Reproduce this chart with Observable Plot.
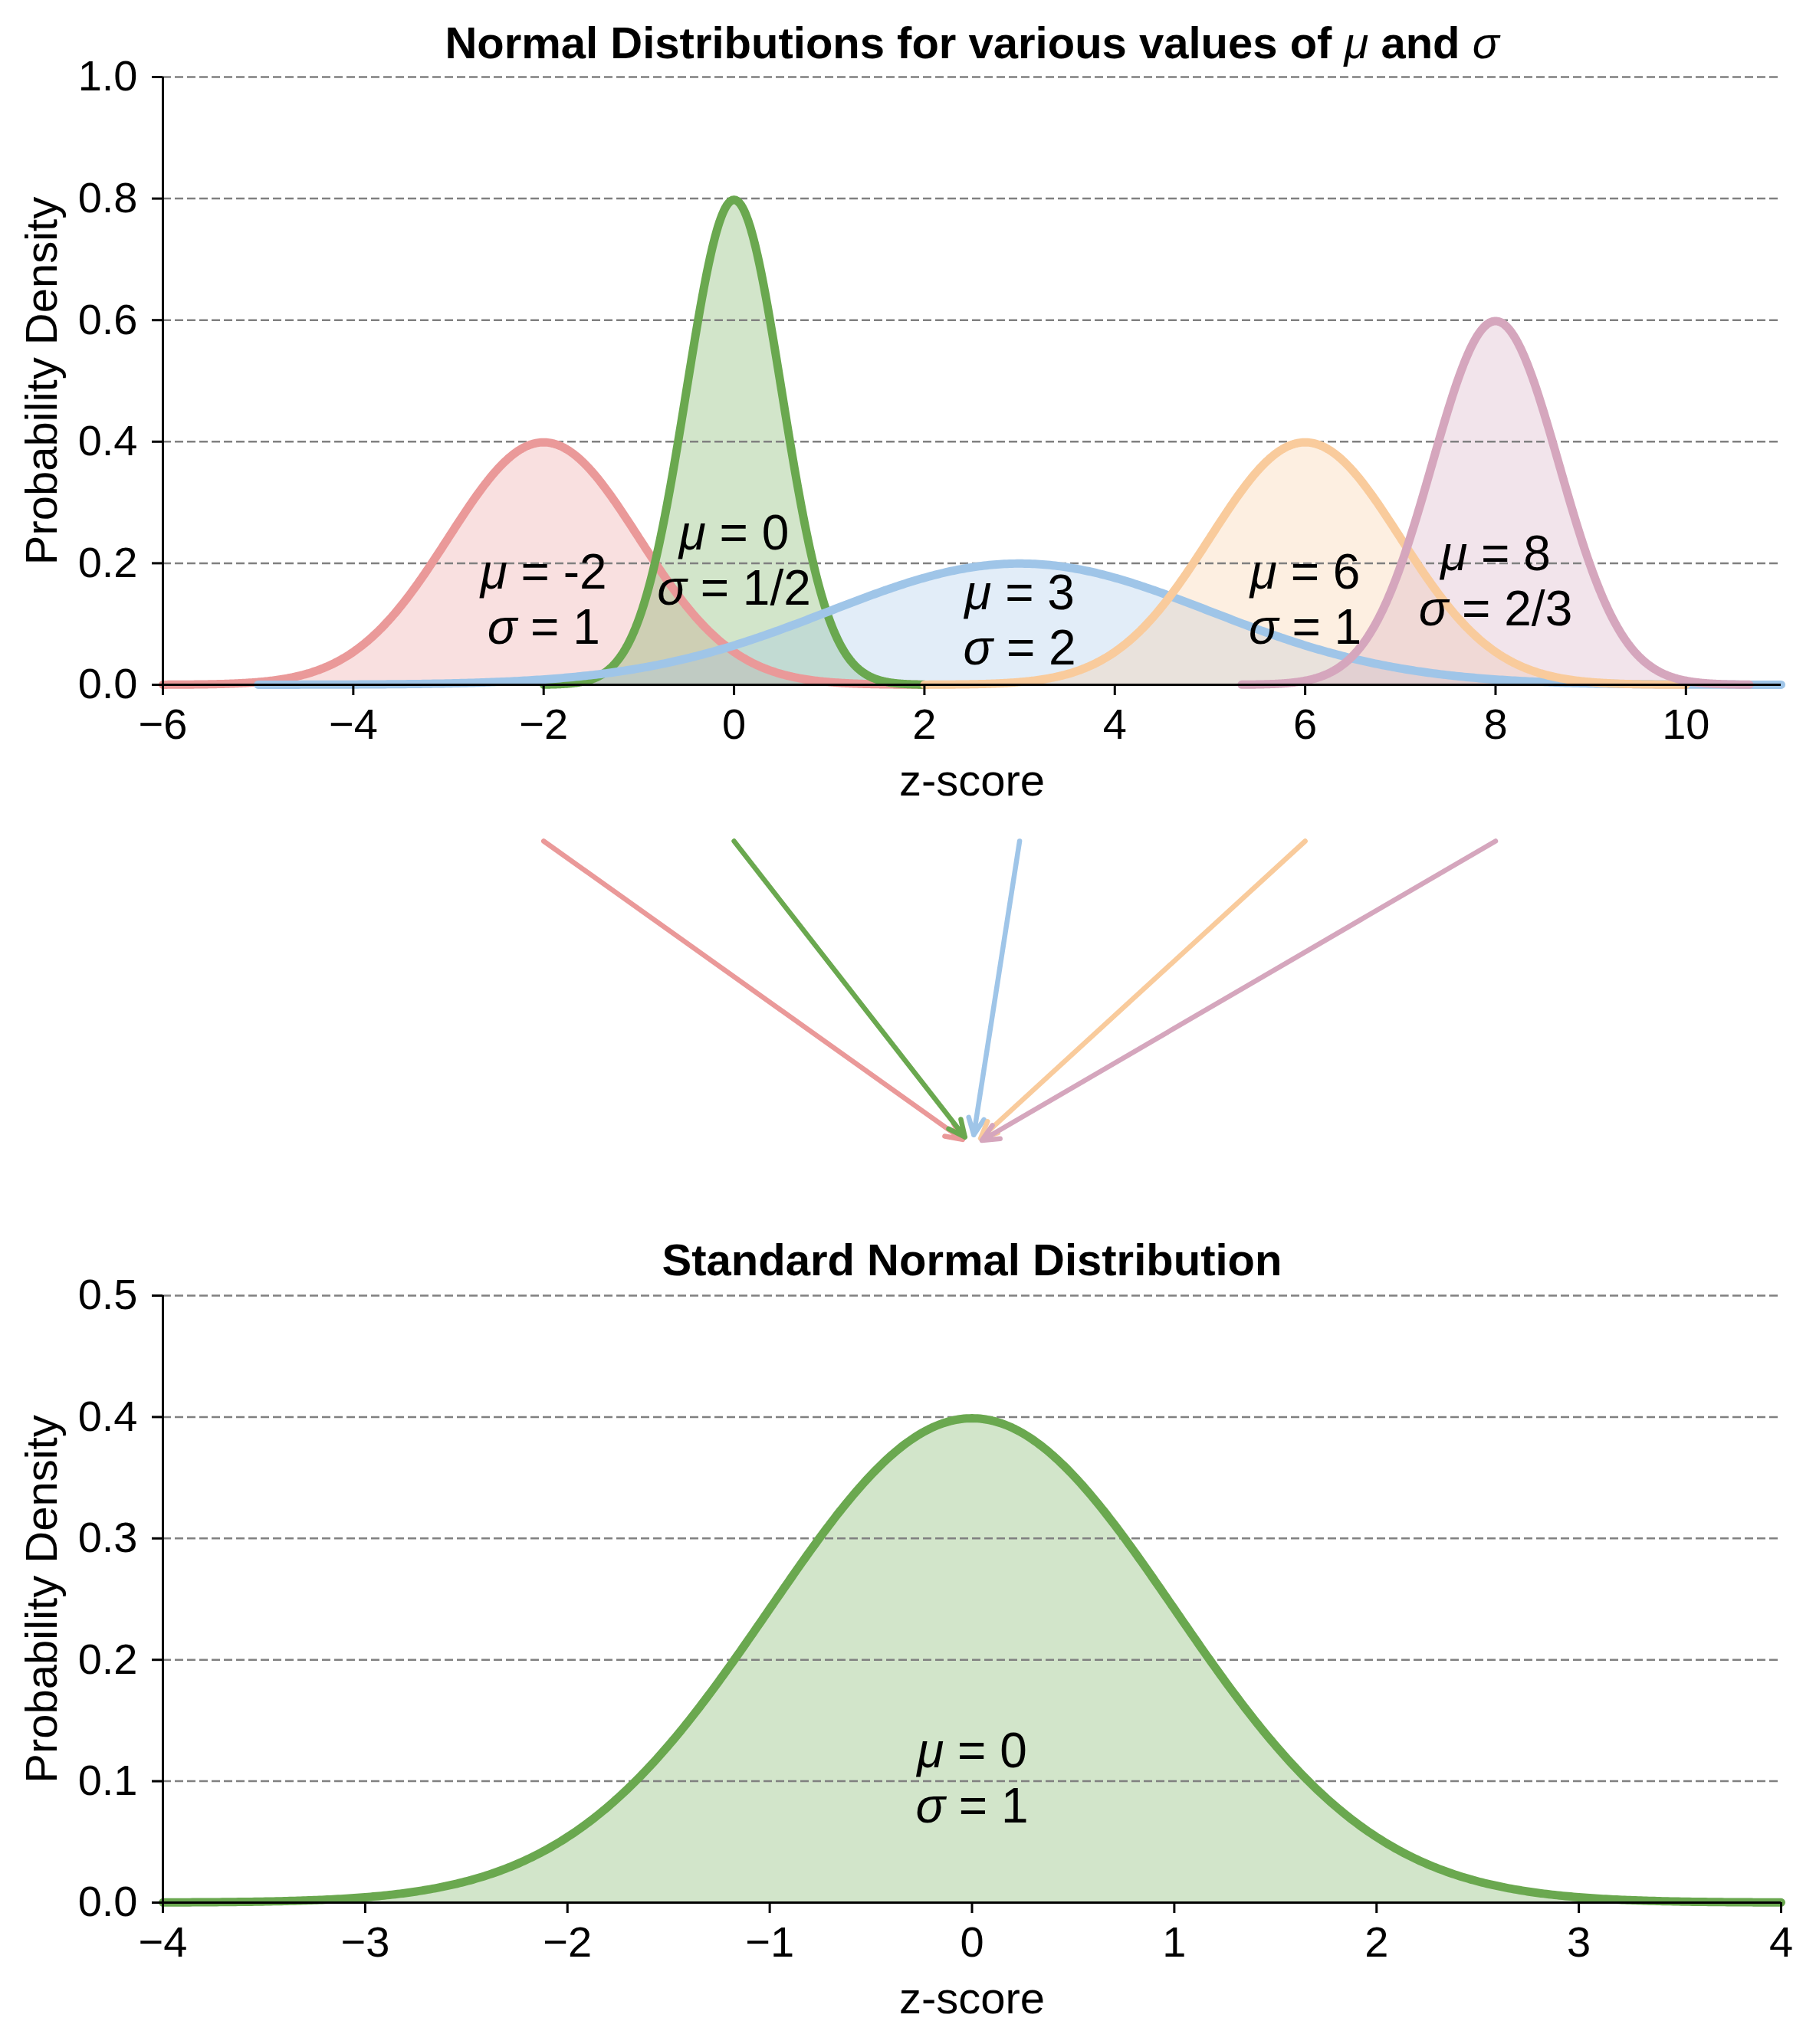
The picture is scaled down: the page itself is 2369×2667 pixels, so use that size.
<!DOCTYPE html>
<html><head><meta charset="utf-8">
<script src="https://cdn.jsdelivr.net/npm/d3@7"></script>
<script src="https://cdn.jsdelivr.net/npm/@observablehq/plot@0.6"></script>
<style>
html,body{margin:0;padding:0;background:#fff;}
#chart{width:2369px;}
#chart svg{display:block;}
</style></head><body><div id="chart"></div>
<script>
// ---- Data (distribution parameters shown in the labels) ----
const mus = [-2, 0, 3, 6, 8];
const sigmas = [1, 1/2, 2, 1, 2/3];
const muLabels = ["-2", "0", "3", "6", "8"];
const sigmaLabels = ["1", "1/2", "2", "1", "2/3"];
const labelY = [0.067, 0.132, 0.033, 0.067, 0.098];   // baseline of the σ line, density units

const stdMu = 0;
const stdSigma = 1;
const stdMuLabel = "0";
const stdSigmaLabel = "1";
const stdLabelY = 0.066;

const topXTicks = [-6, -4, -2, 0, 2, 4, 6, 8, 10];
const topYTicks = [0, 0.2, 0.4, 0.6, 0.8, 1.0];
const botXTicks = [-4, -3, -2, -1, 0, 1, 2, 3, 4];
const botYTicks = [0, 0.1, 0.2, 0.3, 0.4, 0.5];
const topXDomain = [-6, 11];
const topYDomain = [0, 1];
const botXDomain = [-4, 4];
const botYDomain = [0, 0.5];

const topTitle = "Normal Distributions for various values of μ and σ";
const botTitle = "Standard Normal Distribution";
const xLabel = "z-score";
const yLabel = "Probability Density";

// ---- styles ----
const lineColors = ["#ea9999", "#6aa84f", "#9fc5e8", "#f9cb9c", "#d5a6bd"];
const FONT = "'Liberation Sans', Arial, Helvetica, sans-serif";
const W = 2369, ML = 212, MR = 46;
const gridStyle = {stroke: "#808080", strokeOpacity: 1, strokeWidth: 2.5, strokeDasharray: "11,5"};
const plotStyle = {fontFamily: FONT, background: "white", overflow: "visible", color: "black"};
const xFormat = d => (d < 0 ? "\u2212" : "") + Math.abs(d);
const yFormat = d3.format(".1f");

function pdf(x, m, s) { return Math.exp(-0.5 * ((x - m) / s) ** 2) / (s * Math.sqrt(2 * Math.PI)); }
function curve(m, s, lo, hi, n = 600) {
  return d3.range(n + 1).map(i => { const x = lo + (hi - lo) * i / n; return {x, y: pdf(x, m, s)}; });
}

function commonMarks(xTicks, yTicks, xDomain, titleText, titleDy) {
  return [
    Plot.ruleY([0], {stroke: "black", strokeWidth: 3}),
    Plot.ruleX([xDomain[0]], {stroke: "black", strokeWidth: 3}),
    Plot.axisX(xTicks, {tickSize: 14, tickPadding: 17, fontSize: 56, strokeWidth: 3, label: null, tickFormat: xFormat}),
    Plot.axisY(yTicks, {tickSize: 14, tickPadding: 19, fontSize: 56, strokeWidth: 3, label: null, tickFormat: yFormat}),
    Plot.text([xLabel], {text: d => d, frameAnchor: "bottom", dy: 144, lineAnchor: "bottom", textAnchor: "middle", fontSize: 58}),
    Plot.text([yLabel], {text: d => d, frameAnchor: "left", dx: -139, rotate: -90, lineAnchor: "bottom", textAnchor: "middle", fontSize: 58}),
    Plot.text([titleText], {text: d => d, frameAnchor: "top", dy: titleDy, lineAnchor: "bottom", textAnchor: "middle", fontSize: 58, fontWeight: "bold"})
  ];
}

const labelOpts = {x: "x", y: "y", text: "t", fontSize: 64, lineHeight: 1.125, lineAnchor: "bottom", textAnchor: "middle", fill: "black"};

// ---- top chart ----
const topCurves = mus.map((m, i) => curve(m, sigmas[i], m - 4 * sigmas[i], m + 4 * sigmas[i]));
const topLabels = mus.map((m, i) => ({x: m, y: labelY[i], t: `μ = ${muLabels[i]}\nσ = ${sigmaLabels[i]}`}));

const topPlot = Plot.plot({
  width: W, height: 1060, marginLeft: ML, marginRight: MR, marginTop: 100, marginBottom: 167,
  style: plotStyle,
  x: {domain: topXDomain}, y: {domain: topYDomain},
  marks: [
    ...topCurves.map((c, i) => Plot.areaY(c, {x: "x", y: "y", fill: lineColors[i], fillOpacity: 0.3})),
    Plot.gridY(topYTicks, gridStyle),
    ...topCurves.map((c, i) => Plot.line(c, {x: "x", y: "y", stroke: lineColors[i], strokeWidth: 11})),
    Plot.text(topLabels, labelOpts),
    ...commonMarks(topXTicks, topYTicks, topXDomain, topTitle, -25)
  ]
});

// ---- bottom chart ----
const stdCurve = curve(stdMu, stdSigma, botXDomain[0], botXDomain[1]);
const bottomPlot = Plot.plot({
  width: W, height: 1107, marginLeft: ML, marginRight: MR, marginTop: 130, marginBottom: 185,
  style: plotStyle,
  x: {domain: botXDomain}, y: {domain: botYDomain},
  marks: [
    Plot.areaY(stdCurve, {x: "x", y: "y", fill: lineColors[1], fillOpacity: 0.3}),
    Plot.gridY(botYTicks, gridStyle),
    Plot.line(stdCurve, {x: "x", y: "y", stroke: lineColors[1], strokeWidth: 11}),
    Plot.text([{x: stdMu, y: stdLabelY, t: `μ = ${stdMuLabel}\nσ = ${stdSigmaLabel}`}], labelOpts),
    ...commonMarks(botXTicks, botYTicks, botXDomain, botTitle, -27)
  ]
});

// ---- arrows: from each μ (top x scale) to the standard normal's μ (bottom x scale) ----
const arrowEndX = topPlot.scale("x").invert(bottomPlot.scale("x").apply(stdMu));
const arrowPlot = Plot.plot({
  width: W, height: 500, marginLeft: ML, marginRight: MR, marginTop: 37, marginBottom: 65,
  style: plotStyle,
  x: {domain: topXDomain, axis: null}, y: {domain: [0, 1], axis: null},
  marks: mus.map((m, i) => Plot.arrow([m], {
    x1: d => d, y1: () => 1, x2: () => arrowEndX, y2: () => 0,
    stroke: lineColors[i], strokeWidth: 6.5, headLength: 5.5, headAngle: 50, insetEnd: 15,
    strokeLinecap: "round", strokeLinejoin: "round"
  }))
});

// italic Greek letters (as in the mathtext of the reference)
function italicizeGreek(root) {
  const walker = document.createTreeWalker(root, NodeFilter.SHOW_TEXT);
  const nodes = [];
  while (walker.nextNode()) if (/[μσ]/.test(walker.currentNode.nodeValue)) nodes.push(walker.currentNode);
  for (const n of nodes) {
    const frag = document.createDocumentFragment();
    for (const p of n.nodeValue.split(/([μσ])/)) {
      if (!p) continue;
      if (/[μσ]/.test(p)) {
        const t = document.createElementNS("http://www.w3.org/2000/svg", "tspan");
        t.setAttribute("font-style", "italic");
        t.setAttribute("font-weight", "normal");
        t.textContent = p;
        frag.appendChild(t);
      } else frag.appendChild(document.createTextNode(p));
    }
    n.parentNode.replaceChild(frag, n);
  }
}

const chart = document.getElementById("chart");
for (const s of [topPlot, arrowPlot, bottomPlot]) { italicizeGreek(s); chart.appendChild(s); }
</script>
</body></html>
